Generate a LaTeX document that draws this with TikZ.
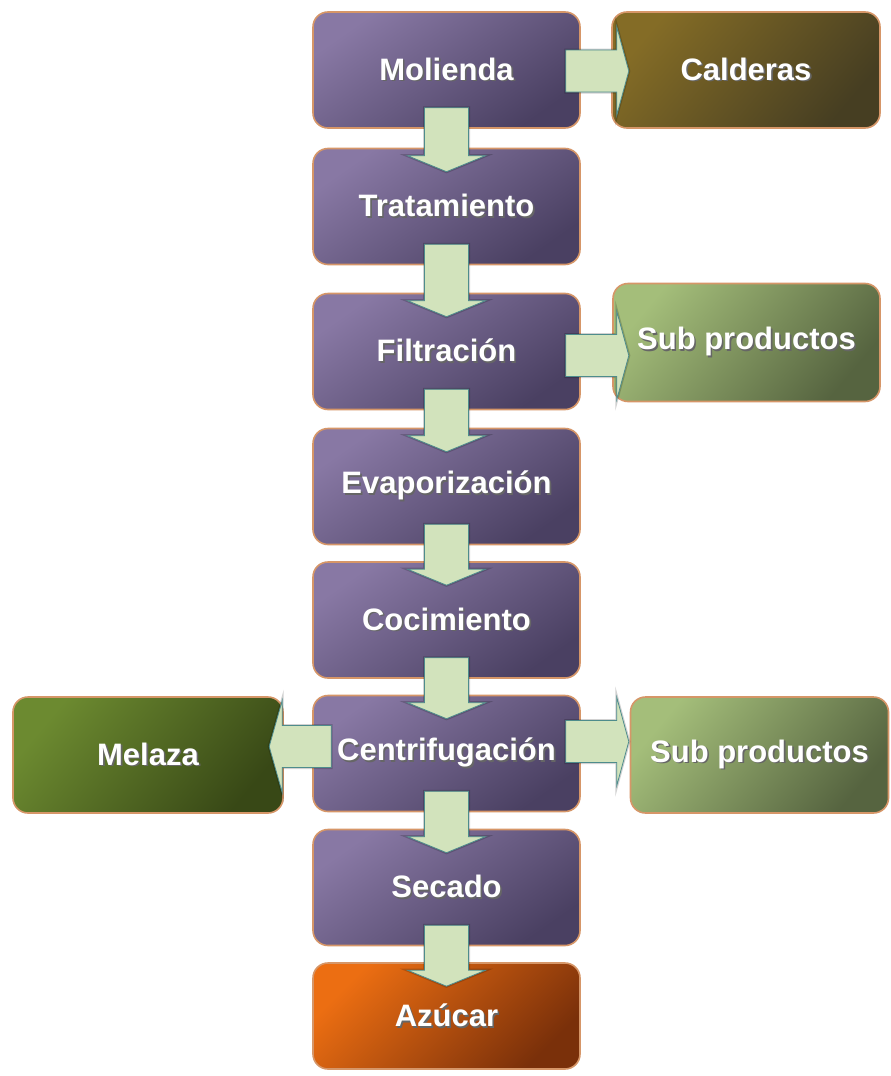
\documentclass[tikz,border=0pt]{standalone}
\usepackage{fontspec}
\setmainfont{Liberation Sans}
\usetikzlibrary{calc}
\definecolor{purpA}{RGB}{136,120,164}
\definecolor{purpM}{RGB}{102,90,128}
\definecolor{purpB}{RGB}{74,64,98}
\definecolor{boxedge}{RGB}{214,150,104}
\definecolor{calA}{RGB}{132,108,38}
\definecolor{calM}{RGB}{98,84,38}
\definecolor{calB}{RGB}{70,62,34}
\definecolor{subA}{RGB}{164,190,122}
\definecolor{subM}{RGB}{118,138,84}
\definecolor{subB}{RGB}{86,100,64}
\definecolor{melA}{RGB}{108,138,48}
\definecolor{melM}{RGB}{78,104,34}
\definecolor{melB}{RGB}{56,72,22}
\definecolor{azuA}{RGB}{236,110,18}
\definecolor{azuM}{RGB}{186,82,12}
\definecolor{azuB}{RGB}{122,48,10}
\definecolor{arrowfill}{RGB}{210,227,188}
\definecolor{arrowedge}{RGB}{78,140,140}
\newcommand{\sh}[1]{\rlap{\hspace{1.6pt}\raisebox{-1.6pt}{\color{black!60}#1}}#1}
\tikzset{
  basebox/.style={rounded corners=15pt, inner sep=0pt, draw=boxedge,
    line width=1.6pt, text=white, font=\fontsize{31}{36}\selectfont\bfseries},
  stage/.style={basebox, minimum width=267pt, minimum height=116pt,
    top color=purpA, middle color=purpM, bottom color=purpB, shading angle=35},
  caldbox/.style={basebox, top color=calA, middle color=calM, bottom color=calB, shading angle=50},
  subbox/.style={basebox, top color=subA, middle color=subM, bottom color=subB, shading angle=50},
  melbox/.style={basebox, top color=melA, middle color=melM, bottom color=melB, shading angle=50},
  azubox/.style={basebox, top color=azuA, middle color=azuM, bottom color=azuB, shading angle=45},
  flow/.style={fill=arrowfill, draw=arrowedge, line width=0.8pt, line join=miter,
    preaction={draw=black, draw opacity=0.18, line width=3pt}},
}
% down arrow from node #1 to node #2
\newcommand{\darr}[2]{\draw[flow]
  ($(#1.south)+(-22,-21)$) -- ($(#2.north)+(-22,8)$) -- ($(#2.north)+(-39,8)$)
  -- ($(#2.north)+(0,24)$) -- ($(#2.north)+(39,8)$) -- ($(#2.north)+(22,8)$)
  -- ($(#1.south)+(22,-21)$) -- cycle;}
% right arrow from node #1 toward node #2, vertical offset #3
\newcommand{\rarr}[3]{\draw[flow]
  ($(#1.east)+(-15,-21+#3)$) -- ($(#1.east)+(36,-21+#3)$) -- ($(#1.east)+(36,-44+#3)$)
  -- ($(#1.east)+(48,#3)$) -- ($(#1.east)+(36,44+#3)$) -- ($(#1.east)+(36,21+#3)$)
  -- ($(#1.east)+(-15,21+#3)$) -- cycle;}
% left arrow from node #1 toward node #2, vertical offset #3
\newcommand{\larr}[3]{\draw[flow]
  ($(#1.west)+(19,-21+#3)$) -- ($(#1.west)+(-30,-21+#3)$) -- ($(#1.west)+(-30,-46+#3)$)
  -- ($(#1.west)+(-43,#3)$) -- ($(#1.west)+(-30,46+#3)$) -- ($(#1.west)+(-30,21+#3)$)
  -- ($(#1.west)+(19,21+#3)$) -- cycle;}
\begin{document}
\begin{tikzpicture}[x=1pt,y=-1pt]
\useasboundingbox[fill=white] (0,0) rectangle (891,1076);
% main stages
\node[stage] (mol) at (446.5,70)    {\sh{Molienda}};
\node[stage] (tra) at (446.5,206.5) {\sh{Tratamiento}};
\node[stage] (fil) at (446.5,351.5) {\sh{Filtración}};
\node[stage] (eva) at (446.5,486.5) {\sh{Evaporización}};
\node[stage] (coc) at (446.5,620)   {\sh{Cocimiento}};
\node[stage] (cen) at (446.5,753.5) {\sh{Centrifugación}};
\node[stage] (sec) at (446.5,887.5) {\sh{Secado}};
\node[azubox, minimum width=267pt, minimum height=106pt] (azu) at (446.5,1016) {\sh{Azúcar}};
% side boxes
\node[caldbox, minimum width=268pt, minimum height=116pt] (cal) at (746,70) {\sh{Calderas}};
\node[subbox, minimum width=267pt, minimum height=118pt] (subA) at (746.5,342.5) {\sh{Sub productos}};
\node[melbox, minimum width=270pt, minimum height=116pt] (mel) at (148,755) {\sh{Melaza}};
\node[subbox, minimum width=258pt, minimum height=116pt] (subB) at (759.5,755) {\sh{Sub productos}};
% arrows
\darr{mol}{tra}
\darr{tra}{fil}
\darr{fil}{eva}
\darr{eva}{coc}
\darr{coc}{cen}
\darr{cen}{sec}
\darr{sec}{azu}
\rarr{mol}{cal}{1}
\rarr{fil}{subA}{4}
\rarr{cen}{subB}{-12}
\larr{cen}{mel}{-7}
\end{tikzpicture}
\end{document}
